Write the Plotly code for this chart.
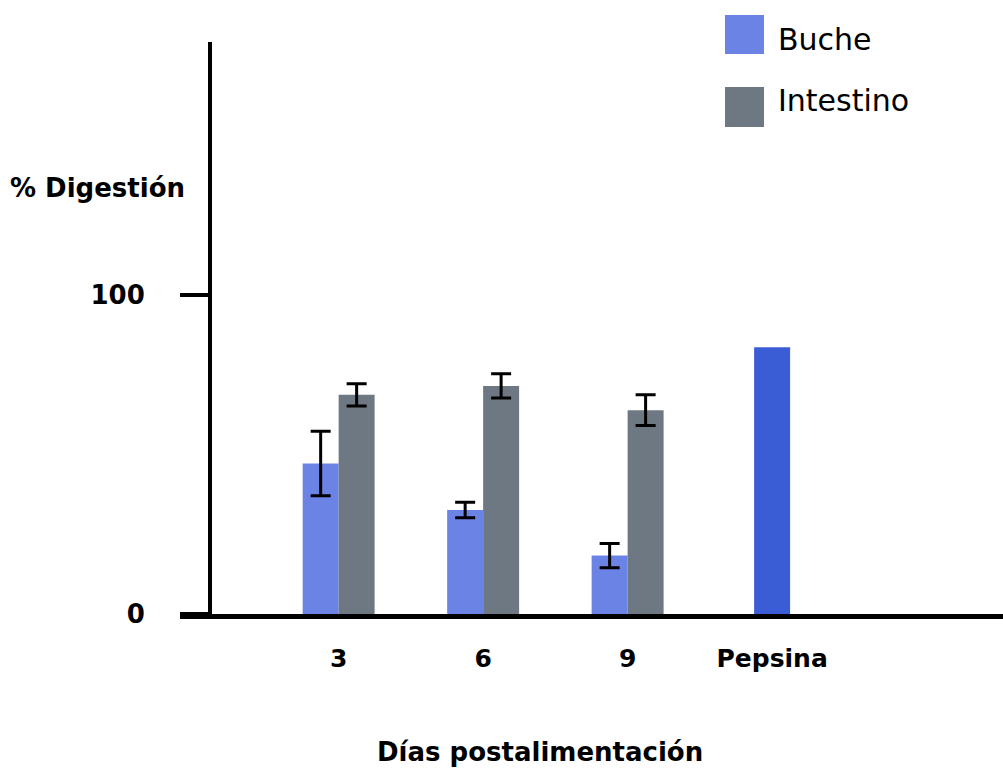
import plotly.graph_objects as go

categories = ["3", "6", "9", "Pepsina"]
group_pos = [0, 1, 2]
buche = [47.2, 32.6, 18.3]
buche_err = [10.1, 2.4, 3.8]
intestino = [68.7, 71.5, 63.9]
intestino_err = [3.5, 3.8, 4.8]
pepsina_pos = [3]
pepsina = [83.6]
y_ticks = [0, 100]

FONT = "Comic Sans MS, DejaVu Sans, sans-serif"
C_BUCHE = "#6b83e4"
C_INT = "#6e7883"
C_PEP = "#3a5dd6"
BW = 0.249

fig = go.Figure()
fig.add_trace(go.Bar(
    x=group_pos, y=buche, name="Buche", width=BW, offset=-BW,
    marker=dict(color=C_BUCHE, line=dict(width=0)),
    error_y=dict(type="data", array=buche_err, color="black", thickness=3, width=10),
))
fig.add_trace(go.Bar(
    x=group_pos, y=intestino, name="Intestino", width=BW, offset=0,
    marker=dict(color=C_INT, line=dict(width=0)),
    error_y=dict(type="data", array=intestino_err, color="black", thickness=3, width=10),
))
fig.add_trace(go.Bar(
    x=pepsina_pos, y=pepsina, name="Pepsina", width=BW, offset=-BW / 2,
    marker=dict(color=C_PEP, line=dict(width=0)),
))

fig.update_layout(
    width=1003, height=773,
    margin=dict(l=180, r=0, t=42, b=159, pad=0),
    paper_bgcolor="white", plot_bgcolor="white",
    barmode="overlay",
    showlegend=False,
    font=dict(family=FONT, color="black"),
    xaxis=dict(
        range=[-1.098, 4.598], tickvals=[0, 1, 2, 3], ticktext=categories,
        showline=True, linecolor="black", linewidth=5,
        ticks="", showgrid=False, zeroline=False,
        tickfont=dict(size=25, family=FONT, weight="bold"),
        ticklabelstandoff=18,
    ),
    yaxis=dict(
        range=[0, 179.3], tickvals=y_ticks, ticktext=[str(v) for v in y_ticks],
        anchor="free", position=30 / 823,
        showline=True, linecolor="black", linewidth=4,
        ticks="outside", ticklen=28, tickwidth=4, tickcolor="black",
        showgrid=False, zeroline=False,
        tickfont=dict(size=26, family=FONT, weight="bold"),
        ticklabelstandoff=30,
    ),
)

# Axis titles
fig.add_annotation(text="% Digestión", xref="paper", yref="paper",
                   x=-172 / 823, y=(614 - 188) / 572, xanchor="left", yanchor="middle",
                   showarrow=False, font=dict(size=26, family=FONT, weight="bold"))
fig.add_annotation(text="Días postalimentación", xref="paper", yref="paper",
                   x=(540 - 180) / 823, y=-(752 - 614) / 572, xanchor="center", yanchor="middle",
                   showarrow=False, font=dict(size=26, family=FONT, weight="bold"))

# Manual legend
legend_items = [("Buche", C_BUCHE, 15, 54, 40), ("Intestino", C_INT, 87, 127, 101)]
for name, col, y0, y1, ty in legend_items:
    fig.add_shape(type="rect", xref="paper", yref="paper",
                  x0=(725 - 180) / 823, x1=(764 - 180) / 823,
                  y0=(614 - y1) / 572, y1=(614 - y0) / 572,
                  fillcolor=col, line=dict(width=0))
    fig.add_annotation(text=name, xref="paper", yref="paper",
                       x=(776 - 180) / 823, y=(614 - ty) / 572,
                       xanchor="left", yanchor="middle", showarrow=False,
                       font=dict(size=30, family=FONT))

fig.write_html("out.html", config={"displayModeBar": False},
               post_script="document.body.style.margin='0px';")
